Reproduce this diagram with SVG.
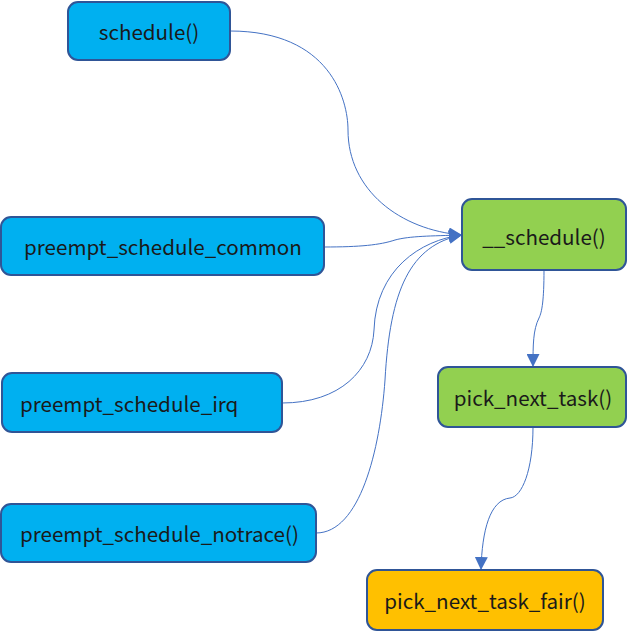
<svg xmlns="http://www.w3.org/2000/svg" width="627" height="631" viewBox="0 0 627 631">
<style>
.n{stroke:#2F5597;stroke-width:2}
.b{fill:#00B0F0}.g{fill:#92D050}.o{fill:#FFC000}
text{font-family:"Noto Sans CJK SC","Noto Sans",sans-serif;font-size:20.6px;fill:#1a1a1a;dominant-baseline:central}
.c{text-anchor:middle}
.e{fill:none;stroke:#4472C4;stroke-width:1}
</style>
<defs>
<marker id="a" viewBox="0 0 10 10" refX="10" refY="5" markerWidth="13" markerHeight="13" markerUnits="userSpaceOnUse" orient="auto">
<path d="M0,0L10,5L0,10z" fill="#4472C4"/>
</marker>
</defs>
<g id="connectors">
<path class="e" marker-end="url(#a)" d="M230,31 C330,31 348,100 348,130 C348,190 400,230 462,235"/>
<path class="e" marker-end="url(#a)" d="M324,247 C360,247 380,245 395,240 C410,236 430,236 462,235"/>
<path class="e" marker-end="url(#a)" d="M282,403 C340,403 372,370 374,330 C376,270 420,240 462,235"/>
<path class="e" marker-end="url(#a)" d="M316,533 C360,533 380,450 385,380 C390,290 410,245 462,235"/>
<path class="e" marker-end="url(#a)" d="M544,270 C544,300 542,312 539,318 C533,330 533,345 533,367"/>
<path class="e" marker-end="url(#a)" d="M533,427 C533,470 522,497 510,498 C490,500 482,530 481,570"/>
</g>
<g id="schedule"><rect class="n b" x="68" y="2" width="162" height="58" rx="10"/><text class="c" x="149" y="31">schedule()</text></g>
<g id="preempt_schedule_common"><rect class="n b" x="1" y="217" width="323" height="58" rx="10"/><text class="c" x="163" y="246">preempt_schedule_common</text></g>
<g id="preempt_schedule_irq"><rect class="n b" x="2" y="373" width="280" height="59" rx="10"/><text x="20" y="403">preempt_schedule_irq</text></g>
<g id="preempt_schedule_notrace"><rect class="n b" x="1" y="504" width="315" height="58" rx="10"/><text x="20" y="533">preempt_schedule_notrace()</text></g>
<g id="__schedule"><rect class="n g" x="462" y="199" width="164" height="71" rx="10"/><text class="c" x="544" y="236">__schedule()</text></g>
<g id="pick_next_task"><rect class="n g" x="438" y="367" width="188" height="60" rx="10"/><text class="c" x="533" y="397">pick_next_task()</text></g>
<g id="pick_next_task_fair"><rect class="n o" x="367" y="570" width="236" height="60" rx="10"/><text class="c" x="485" y="600">pick_next_task_fair()</text></g>
</svg>
